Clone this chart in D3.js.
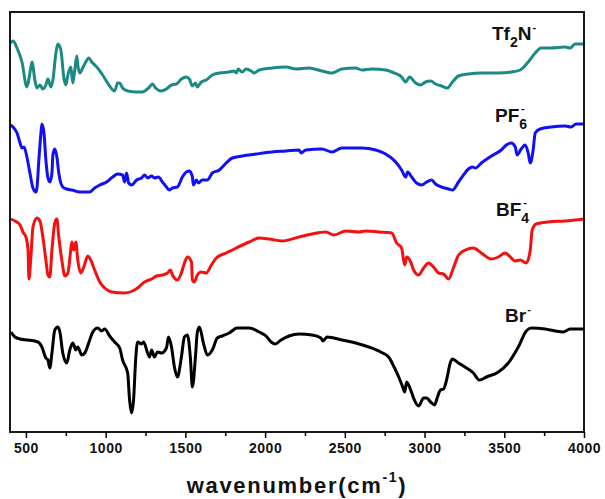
<!DOCTYPE html>
<html>
<head>
<meta charset="utf-8">
<script src="https://cdn.jsdelivr.net/npm/d3@7"></script>
<style>
  body { margin: 0; background: #fff; }
  svg { display: block; font-family: "Liberation Sans", Arial, sans-serif; }
</style>
</head>
<body>
<svg id="chart"></svg>
<script>
// FTIR spectra: [wavenumber (cm-1), transmittance (a.u., stacked)]
const tf2n = [[404,389],[419,391],[444,384],[475,370],[506,345],[525,359],[538,370],[556,352],[569,344],[588,347],[606,343],[625,347],[638,353],[656,345],[669,352],[688,379],[700,388],[719,382],[738,354],[750,347],[763,357],[781,365],[794,349],[806,362],[819,376],[825,367],[838,359],[856,364],[875,370],[894,374],[913,370],[944,365],[981,357],[1025,346],[1056,341],[1075,349],[1088,349],[1106,344],[1138,341],[1194,340],[1231,340],[1269,344],[1294,348],[1313,344],[1350,341],[1381,343],[1413,347],[1444,348],[1475,353],[1506,355],[1525,353],[1544,346],[1563,349],[1575,345],[1600,350],[1631,352],[1669,357],[1713,359],[1775,360],[1806,361],[1819,359],[1831,363],[1856,360],[1881,363],[1913,361],[1931,359],[1963,362],[2044,364],[2131,365],[2194,363],[2275,364],[2356,361],[2419,359],[2481,363],[2569,364],[2606,362],[2669,363],[2756,362],[2794,360],[2856,355],[2881,350],[2906,355],[2944,349],[2975,347],[3006,350],[3038,351],[3069,348],[3106,346],[3144,344],[3175,350],[3213,356],[3275,358],[3356,359],[3463,359],[3544,360],[3600,362],[3650,370],[3694,379],[3731,384],[3794,384],[3881,385],[3913,384],[3944,388],[4000,388]];

const pf6 = [[404,307],[419,305],[444,299],[463,289],[475,284],[488,285],[506,275],[525,259],[544,244],[563,240],[569,244],[581,272],[594,299],[600,308],[613,299],[625,272],[638,254],[650,250],[663,259],[669,277],[681,283],[694,275],[706,259],[731,245],[756,243],[788,242],[838,240],[900,240],[931,244],[963,247],[1006,250],[1044,255],[1075,258],[1106,257],[1119,250],[1131,259],[1144,249],[1163,247],[1194,252],[1225,254],[1244,257],[1263,254],[1288,256],[1306,254],[1331,255],[1356,250],[1381,245],[1400,242],[1419,244],[1450,245],[1481,255],[1506,260],[1525,261],[1544,255],[1550,247],[1569,252],[1581,249],[1606,252],[1638,252],[1669,259],[1713,262],[1756,269],[1794,274],[1856,276],[1944,278],[2044,280],[2131,281],[2213,282],[2225,279],[2256,282],[2356,283],[2419,280],[2481,284],[2606,284],[2694,282],[2756,278],[2819,270],[2856,262],[2881,255],[2894,260],[2919,255],[2950,249],[2981,247],[3013,250],[3044,252],[3069,248],[3106,245],[3150,243],[3175,242],[3213,250],[3244,257],[3275,263],[3300,265],[3319,264],[3356,269],[3419,276],[3481,282],[3513,287],[3544,289],[3569,285],[3581,277],[3606,283],[3631,287],[3650,279],[3663,269],[3681,282],[3694,299],[3725,303],[3794,305],[3881,306],[3919,305],[3950,308],[4000,308]];

const bf4 = [[406,213],[431,211],[463,207],[481,200],[500,195],[513,182],[519,153],[531,175],[544,205],[569,214],[588,211],[606,195],[625,172],[638,157],[650,155],[663,182],[681,209],[694,213],[706,195],[725,172],[744,156],[763,159],[781,182],[788,190],[800,182],[813,190],[825,172],[844,159],[863,165],[888,176],[906,172],[931,162],[963,150],[994,144],[1038,140],[1119,139],[1169,141],[1200,144],[1244,150],[1288,153],[1319,156],[1356,157],[1388,159],[1406,162],[1419,157],[1450,152],[1475,159],[1494,169],[1513,175],[1538,170],[1544,152],[1556,150],[1575,157],[1600,160],[1631,159],[1663,167],[1694,174],[1756,179],[1819,184],[1900,190],[1963,194],[2025,193],[2106,191],[2213,195],[2294,198],[2381,200],[2431,197],[2506,201],[2588,200],[2631,201],[2713,200],[2794,199],[2825,189],[2856,184],[2875,167],[2888,175],[2913,170],[2931,162],[2963,157],[2994,164],[3025,169],[3056,165],[3088,159],[3119,158],[3150,153],[3181,164],[3213,177],[3256,182],[3306,184],[3356,179],[3419,173],[3463,175],[3506,179],[3538,175],[3569,171],[3600,172],[3638,169],[3663,182],[3675,202],[3700,208],[3775,210],[3881,211],[4000,213]];

const br = [[406,100],[431,95],[463,93],[513,92],[575,90],[600,85],[625,74],[638,72],[650,64],[663,79],[681,102],[700,105],[713,100],[731,79],[756,69],[775,82],[794,89],[813,82],[825,85],[850,77],[869,79],[900,92],[919,100],[950,104],[975,101],[994,103],[1025,96],[1056,90],[1088,84],[1106,72],[1138,59],[1150,32],[1163,19],[1175,32],[1188,72],[1200,90],[1225,88],[1238,90],[1263,79],[1275,75],[1288,82],[1306,75],[1325,80],[1350,79],[1381,84],[1394,95],[1413,85],[1431,65],[1450,55],[1475,75],[1494,95],[1513,97],[1531,75],[1544,45],[1563,75],[1575,100],[1588,105],[1613,89],[1638,77],[1669,82],[1700,94],[1731,96],[1775,99],[1825,104],[1900,104],[1963,100],[2006,96],[2038,90],[2063,88],[2100,92],[2150,96],[2213,98],[2294,97],[2350,94],[2363,91],[2388,95],[2481,92],[2569,89],[2650,85],[2725,80],[2775,75],[2806,66],[2838,55],[2863,45],[2875,40],[2888,50],[2913,42],[2931,34],[2963,26],[2994,34],[3013,34],[3038,30],[3063,27],[3081,35],[3100,42],[3119,43],[3138,52],[3163,70],[3175,73],[3213,69],[3263,64],[3306,59],[3344,52],[3388,55],[3463,60],[3525,69],[3588,85],[3638,101],[3669,104],[3756,103],[3819,101],[3869,100],[3913,103],[4000,103]];

const seriesNames = ["Tf2N-", "PF6-", "BF4-", "Br-"];
const seriesData = [tf2n, pf6, bf4, br];
const seriesColors = ["#1b8a84", "#1010f5", "#f51010", "#000000"];
const majorTicks = [500, 1000, 1500, 2000, 2500, 3000, 3500, 4000];
const minorTicks = [750, 1250, 1750, 2250, 2750, 3250, 3750];

const W = 605, H = 499;
const margin = { top: 12, right: 21, bottom: 67, left: 10 };
const width = W - margin.left - margin.right;
const height = H - margin.top - margin.bottom;

const svg = d3.select("#chart").attr("width", W).attr("height", H);
const g = svg.append("g").attr("transform", `translate(${margin.left},${margin.top})`);

const x = d3.scaleLinear().domain([400, 4000]).range([0, width]);
const y = d3.scaleLinear().domain([0, 420]).range([height, 0]);

g.append("clipPath").attr("id", "clip")
    .append("rect").attr("width", width).attr("height", height);

const line = d3.line()
    .x(d => x(d[0]))
    .y(d => y(d[1]))
    .curve(d3.curveMonotoneX);

seriesData.forEach((data, i) => {
    g.append("path")
        .datum(data)
        .attr("clip-path", "url(#clip)")
        .attr("fill", "none")
        .attr("stroke", seriesColors[i])
        .attr("stroke-width", 3)
        .attr("stroke-linejoin", "round")
        .attr("d", line);
});

// minor ticks
g.append("g")
    .attr("transform", `translate(0,${height})`)
    .call(d3.axisBottom(x).tickValues(minorTicks).tickSize(4).tickSizeOuter(0).tickFormat(""))
    .call(a => a.select(".domain").remove())
    .selectAll("line").attr("stroke-width", 1.5);

// major ticks
const xAxis = g.append("g")
    .attr("transform", `translate(0,${height})`)
    .call(d3.axisBottom(x).tickValues(majorTicks).tickSize(6).tickSizeOuter(0).tickPadding(5).tickFormat(d3.format("d")));
xAxis.select(".domain").remove();
xAxis.selectAll("line").attr("stroke-width", 1.5);
xAxis.selectAll("text")
    .attr("font-family", "'Liberation Sans', Arial, sans-serif")
    .attr("font-size", 14)
    .attr("font-weight", "bold")
    .attr("letter-spacing", 0.5)
    .attr("fill", "#111");

// frame
g.append("rect")
    .attr("width", width).attr("height", height)
    .attr("fill", "none").attr("stroke", "#000").attr("stroke-width", 1.8);

// axis title
const title = svg.append("text")
    .attr("x", margin.left + width / 2)
    .attr("y", 493)
    .attr("text-anchor", "middle")
    .attr("font-size", 22)
    .attr("font-weight", "bold")
    .attr("letter-spacing", 1.7)
    .attr("fill", "#111");
title.append("tspan").text("wavenumber(cm");
title.append("tspan").attr("font-size", 14).attr("dy", -11).text("-1");
title.append("tspan").attr("dy", 11).text(")");

// series labels
const labelPos = [
    { x: 492, y: 40 },
    { x: 495, y: 122 },
    { x: 496, y: 216 },
    { x: 505, y: 322 }
];
seriesNames.forEach((name, i) => {
    const p = labelPos[i];
    const t = svg.append("text")
        .attr("x", p.x).attr("y", p.y)
        .attr("font-size", 19)
        .attr("font-weight", "bold")
        .attr("fill", "#111");
    const m = name.match(/^([A-Za-z]+)(\d?)([A-Za-z]*)(-)$/);
    t.append("tspan").text(m[1]);
    if (m[2]) {
        t.append("tspan").attr("font-size", 14).attr("dy", 7).text(m[2]);
        if (m[3]) {
            t.append("tspan").attr("dy", -7).text(m[3]);
            t.append("tspan").attr("font-size", 11).attr("dy", -9).attr("dx", 1).text("-");
        } else {
            t.append("tspan").attr("font-size", 11).attr("dy", -17).attr("dx", -6).text("-");
        }
    } else {
        t.append("tspan").attr("font-size", 11).attr("dy", -9).attr("dx", 1).text("-");
    }
});
</script>
</body>
</html>
